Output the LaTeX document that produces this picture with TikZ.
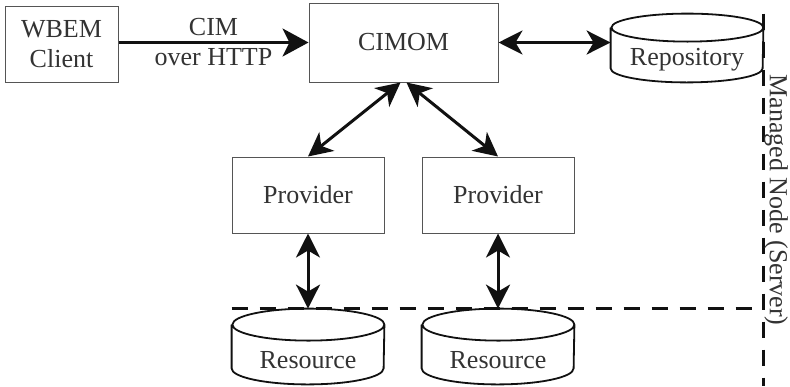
\documentclass[tikz,border=0pt]{standalone}
\usepackage{fontspec}
\setmainfont{Liberation Serif}
\usetikzlibrary{arrows.meta,positioning,shapes.geometric}
\definecolor{ink}{HTML}{111111}
\definecolor{textgray}{HTML}{333333}
\definecolor{edge}{HTML}{555555}
\tikzset{
  box/.style={draw=edge, line width=0.5pt, fill=white, align=center, text=textgray, font=\fontsize{13}{15}\selectfont, minimum width=76pt, minimum height=38pt, inner sep=0pt},
  store/.style={rectangle, text=textgray, font=\fontsize{13}{15}\selectfont, minimum width=76pt, inner sep=0pt, text depth=0pt},
  drum/.style={draw=ink, line width=0.9pt},
  link/.style={{Stealth[length=12pt,width=12pt,inset=3.5pt]}-{Stealth[length=12pt,width=12pt,inset=3.5pt]}, line width=1.5pt, draw=ink},
  oneway/.style={-{Stealth[length=13pt,width=14pt,inset=3.5pt]}, line width=1.6pt, draw=ink},
  border/.style={dash pattern=on 8pt off 6pt, line width=1.5pt, draw=ink},
  tag/.style={text=textgray, align=center, font=\fontsize{13}{15}\selectfont}
}
% cylinder outline round a store node: #1 node, #2 cap radius
\newcommand\drum[2]{%
  \draw[drum] ([yshift=-#2]#1.north west) -- ([yshift=#2]#1.south west)
    arc[start angle=180, end angle=360, x radius=38pt, y radius=#2]
    -- ([yshift=-#2]#1.north east)
    arc[start angle=0, end angle=360, x radius=38pt, y radius=#2];}
\begin{document}
\begin{tikzpicture}[x=0.5pt,y=-0.5pt]
\useasboundingbox (0,0) rectangle (790,386);
\node[box, minimum width=56.5pt] (client) at (61.5,44) {WBEM\\Client};
\node[box, minimum width=94.5pt, minimum height=39.5pt] (cimom) at (403.5,42.5) {CIMOM};
\node[store, minimum height=34pt, text height=17pt] (repo) at (687,48) {Repository};
\node[box] (prov1) at (308,195) {Provider};
\node[box] (prov2) at (498,195) {Provider};
\node[store, minimum height=37.5pt, text height=22pt] (res1) at (308,346.5) {Resource};
\node[store, minimum height=37.5pt, text height=22pt] (res2) at (498,346.5) {Resource};
\drum{repo}{7pt}
\drum{res1}{8pt}
\drum{res2}{8pt}
\coordinate (corner) at (763,386);
% connectors
\draw[oneway] (client.east |- cimom.west) -- node[tag] {CIM\\over HTTP} (cimom.west);
\draw[link] (cimom.east) -- (cimom.east -| repo.west);
\draw[link] ([xshift=-1.5pt]cimom.south) -- (prov1.north);
\draw[link] ([xshift=1.5pt]cimom.south) -- (prov2.north);
\draw[link] (prov1.south) -- (res1.north);
\draw[link] (prov2.south) -- (res2.north);
% managed node border
\draw[border] (res1.north -| res1.west) -- (res1.north -| corner);
\draw[border] (repo.north -| corner) -- (corner);
\node[tag, rotate=-90, inner sep=1pt] (mnode) at (776,200) {Managed Node (Server)};
\end{tikzpicture}
\end{document}
